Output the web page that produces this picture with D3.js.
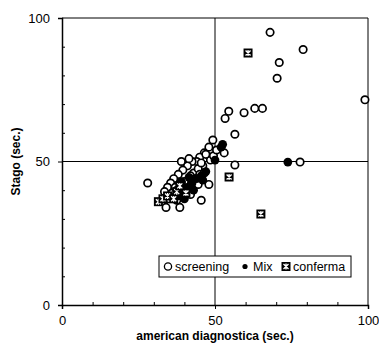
<!DOCTYPE html>
<meta charset="utf-8">
<script src="https://d3js.org/d3.v7.min.js"></script>
<style>
  body { margin: 0; background: #fff; }
  text { font-family: "Liberation Sans", Arial, sans-serif; fill: #000; }
</style>
<div id="chart"></div>
<script>
// data: [american diagnostica, Stago]
var screening = [
  [28, 42.5], [34, 34], [38.5, 34], [45.5, 36.5], [48, 42], [56.5, 48.8], [77.8, 49.8],
  [99, 71.5], [68, 95], [78.8, 89], [71, 84.5], [70.3, 79], [54.5, 67.5], [53.3, 65],
  [59.5, 67], [63, 68.5], [65.5, 68.5], [56.5, 59.5], [49.3, 57.5], [53, 53],
  [48, 55], [46.5, 53], [45, 51.5], [44, 50], [42.5, 50], [41, 48.5], [39.5, 47],
  [38, 45.5], [36.5, 44], [35.5, 42.5], [34.5, 41], [33.5, 39.5], [37, 41], [40, 43],
  [43, 46], [46, 48.5], [48.5, 50.5], [47, 52.5], [44.5, 47.5], [42, 45], [39, 42.5],
  [36, 39], [40.5, 40], [43.5, 44], [45, 45.5], [49.5, 52], [50.5, 54], [41.5, 51],
  [37.5, 36.5], [35, 37], [42, 38.5], [44.5, 42], [46.5, 46], [39, 50], [45.5, 49.5]
];
var mix = [
  [50, 50.5], [52, 55], [52.5, 56], [73.8, 49.8], [47, 46.5], [45.5, 45], [44, 44],
  [42.5, 42.5], [41, 41], [39.5, 39.5], [38, 38], [40, 37], [43, 40], [36.5, 37.5],
  [46, 43.5], [39, 43], [41.5, 44.5], [37.5, 40]
];
var conferma = [
  [60.8, 87.8], [54.6, 44.6], [65, 31.7], [31.5, 36], [33, 37], [34.5, 38],
  [36.5, 37], [37.5, 39.5], [40.5, 39], [38.5, 41.5]
];
var majorTicks = [0, 50, 100];
var minorTicks = [10, 20, 30, 40, 60, 70, 80, 90];

var margin = {top: 18, right: 11, bottom: 39, left: 62},
    width = 379 - margin.left - margin.right,
    height = 344 - margin.top - margin.bottom;

var svg = d3.select("#chart")
  .append("svg")
    .attr("width", 379)
    .attr("height", 344)
  .append("g")
    .attr("transform", "translate(" + margin.left + "," + margin.top + ")");

var x = d3.scaleLinear().domain([0, 100]).range([0, width]);
var y = d3.scaleLinear().domain([0, 100]).range([height, 0]);

// frame and the 50 cross lines
var lines = svg.append("g").attr("stroke", "#000").attr("stroke-width", 1);
lines.append("line").attr("x1", x(0)).attr("x2", x(100)).attr("y1", y(100)).attr("y2", y(100));
lines.append("line").attr("x1", x(100)).attr("x2", x(100)).attr("y1", y(0)).attr("y2", y(100));
lines.append("line").attr("x1", x(50)).attr("x2", x(50)).attr("y1", y(0)).attr("y2", y(100));
lines.append("line").attr("x1", x(0)).attr("x2", x(100)).attr("y1", y(50)).attr("y2", y(50));

// axes: labelled ticks outward, minor ticks inward
svg.append("g")
  .attr("transform", "translate(0," + height + ")")
  .call(d3.axisBottom(x).tickValues(majorTicks).tickSize(4).tickPadding(7));
svg.append("g")
  .attr("transform", "translate(0," + height + ")")
  .call(d3.axisTop(x).tickValues(minorTicks).tickSize(3).tickFormat(""))
  .select(".domain").remove();
svg.append("g")
  .call(d3.axisLeft(y).tickValues(majorTicks).tickSize(4).tickPadding(8));
svg.append("g")
  .call(d3.axisRight(y).tickValues(minorTicks).tickSize(3).tickFormat(""))
  .select(".domain").remove();

svg.selectAll(".domain").attr("stroke-width", 1.5);
svg.selectAll(".tick line").attr("stroke-width", 1);
svg.selectAll(".tick text").style("font-size", "13px").style("font-family", "Liberation Sans, Arial, sans-serif");

// axis titles
svg.append("text")
  .attr("x", x(50)).attr("y", height + 35)
  .attr("text-anchor", "middle")
  .style("font-size", "12px").style("font-weight", "bold")
  .text("american diagnostica  (sec.)");
svg.append("text")
  .attr("transform", "translate(" + (-42) + "," + y(50) + ")rotate(-90)")
  .attr("text-anchor", "middle")
  .style("font-size", "12px").style("font-weight", "bold")
  .text("Stago (sec.)");

// points
svg.append("g").selectAll("circle")
  .data(screening).enter().append("circle")
    .attr("cx", d => x(d[0])).attr("cy", d => y(d[1])).attr("r", 3.7)
    .attr("fill", "#fff").attr("stroke", "#000").attr("stroke-width", 1.7);

svg.append("g").selectAll("circle")
  .data(mix).enter().append("circle")
    .attr("cx", d => x(d[0])).attr("cy", d => y(d[1])).attr("r", 4.4)
    .attr("fill", "#000");

function confermaMark(g) {
  g.append("rect").attr("x", -4.5).attr("y", -4.5).attr("width", 9).attr("height", 9).attr("fill", "#000");
  g.append("path").attr("d", "M-2.5,-2.5L2.5,2.5M2.5,-2.5L-2.5,2.5M0,-3V3")
    .attr("stroke", "#fff").attr("stroke-width", 1.3);
}
svg.append("g").selectAll("g")
  .data(conferma).enter().append("g")
    .attr("transform", d => "translate(" + x(d[0]) + "," + y(d[1]) + ")")
    .each(function() { confermaMark(d3.select(this)); });

// legend
var legend = svg.append("g").attr("transform", "translate(" + (159 - margin.left) + "," + (256 - margin.top) + ")");
legend.append("rect").attr("width", 192).attr("height", 21)
  .attr("fill", "#fff").attr("stroke", "#000").attr("stroke-width", 1);
legend.append("circle").attr("cx", 9).attr("cy", 10.5).attr("r", 3.6)
  .attr("fill", "#fff").attr("stroke", "#000").attr("stroke-width", 1.3);
legend.append("text").attr("x", 16).attr("y", 15).style("font-size", "12.5px").text("screening");
legend.append("circle").attr("cx", 86).attr("cy", 10.5).attr("r", 2.6).attr("fill", "#000");
legend.append("text").attr("x", 94).attr("y", 15).style("font-size", "12.5px").text("Mix");
confermaMark(legend.append("g").attr("transform", "translate(127,10.5)"));
legend.append("text").attr("x", 134).attr("y", 15).style("font-size", "12.5px").text("conferma");
</script>
